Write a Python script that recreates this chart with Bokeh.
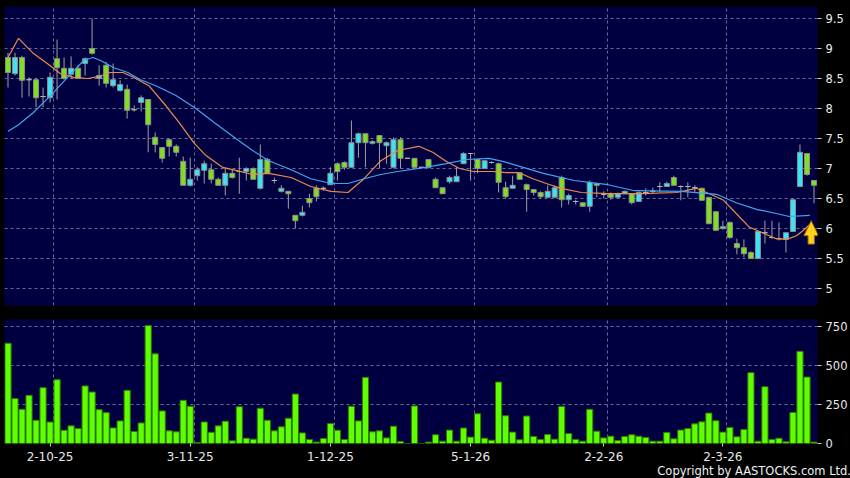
from bokeh.plotting import figure
from bokeh.layouts import column
from bokeh.models import (Range1d, FixedTicker, NumeralTickFormatter, Div,
                          ColumnDataSource, GlobalInlineStyleSheet)
from bokeh.embed import file_html
from bokeh.resources import INLINE

# ---------------- data ----------------
opens = [
    8.85, 8.58, 8.85, 8.48, 8.48, 8.20, 8.18, 8.83, 8.67, 8.57,
    8.67, 8.75, 9.00, 8.50, 8.72, 8.38, 8.30, 8.32, 7.98, 8.10,
    8.15, 7.52, 7.35, 7.48, 7.37, 7.12, 6.72, 6.88, 6.97, 6.98,
    6.82, 6.72, 6.92, 6.95, 6.95, 7.00, 6.67, 7.15, 6.80, 6.62,
    6.62, 6.22, 6.22, 6.50, 6.67, 6.67, 6.73, 7.08, 7.10, 7.02,
    7.43, 7.58, 7.42, 7.55, 7.38, 7.02, 7.48, 7.17, 7.17, 7.02,
    7.15, 6.82, 6.68, 6.78, 6.78, 7.08, 7.25, 7.15, 7.00, 7.10,
    7.08, 6.68, 6.67, 6.93, 6.73, 6.65, 6.60, 6.52, 6.52, 6.85,
    6.48, 6.45, 6.43, 6.37, 6.75, 6.57, 6.58, 6.52, 6.58, 6.58,
    6.45, 6.60, 6.62, 6.70, 6.70, 6.85, 6.70, 6.70, 6.68, 6.67,
    6.52, 6.28, 6.00, 6.10, 5.75, 5.68, 5.60, 5.50, 5.93, 5.85,
    5.83, 5.82, 5.95, 6.70, 7.25, 6.80]
closes = [
    8.60, 8.85, 8.47, 8.48, 8.18, 8.20, 8.52, 8.68, 8.50, 8.67,
    8.50, 8.83, 8.92, 8.55, 8.42, 8.48, 8.40, 7.97, 7.98, 8.18,
    7.73, 7.40, 7.17, 7.37, 7.27, 6.72, 6.82, 6.98, 7.08, 6.82,
    6.72, 6.92, 6.85, 6.95, 7.00, 6.82, 7.15, 6.92, 6.80, 6.67,
    6.58, 6.13, 6.27, 6.43, 6.53, 6.67, 6.92, 6.95, 7.02, 7.43,
    7.58, 7.43, 7.45, 7.43, 7.43, 7.48, 7.17, 7.17, 7.02, 7.02,
    7.02, 6.68, 6.58, 6.85, 6.87, 7.25, 7.25, 7.00, 7.13, 7.10,
    6.77, 6.53, 6.72, 6.82, 6.65, 6.60, 6.53, 6.62, 6.68, 6.48,
    6.55, 6.45, 6.37, 6.77, 6.72, 6.57, 6.52, 6.58, 6.62, 6.43,
    6.60, 6.60, 6.62, 6.70, 6.75, 6.72, 6.70, 6.70, 6.68, 6.47,
    6.08, 5.97, 6.03, 5.85, 5.68, 5.58, 5.50, 5.95, 5.93, 5.85,
    5.83, 5.93, 6.48, 7.27, 6.90, 6.72]
highs = [
    8.93, 8.93, 8.88, 8.52, 8.50, 8.35, 8.60, 9.15, 8.85, 8.87,
    8.72, 8.85, 9.50, 8.72, 8.78, 8.75, 8.47, 8.40, 8.05, 8.22,
    8.15, 7.60, 7.35, 7.50, 7.40, 7.20, 7.18, 7.02, 7.13, 7.08,
    6.85, 7.02, 6.98, 7.18, 7.02, 7.02, 7.40, 7.18, 6.85, 6.72,
    6.62, 6.22, 6.38, 6.58, 6.72, 6.70, 7.02, 7.10, 7.12, 7.80,
    7.60, 7.58, 7.47, 7.55, 7.45, 7.52, 7.52, 7.17, 7.17, 7.02,
    7.15, 6.85, 6.68, 6.88, 7.02, 7.27, 7.25, 7.15, 7.13, 7.12,
    7.10, 6.78, 6.88, 6.93, 6.75, 6.65, 6.62, 6.72, 6.72, 6.88,
    6.58, 6.48, 6.43, 6.80, 6.75, 6.62, 6.60, 6.60, 6.63, 6.58,
    6.62, 6.67, 6.68, 6.77, 6.78, 6.88, 6.72, 6.77, 6.72, 6.68,
    6.52, 6.28, 6.13, 6.12, 5.83, 5.82, 5.62, 5.95, 6.13, 6.13,
    6.10, 5.93, 6.50, 7.40, 7.25, 6.80]
lows = [
    8.35, 8.55, 8.18, 8.20, 8.02, 8.02, 8.10, 8.15, 8.48, 8.50,
    8.50, 8.55, 8.90, 8.38, 8.35, 8.35, 8.28, 7.83, 7.95, 7.95,
    7.27, 7.27, 7.10, 7.20, 7.20, 6.72, 6.70, 6.80, 6.75, 6.75,
    6.72, 6.55, 6.83, 6.58, 6.80, 6.82, 6.65, 6.92, 6.75, 6.60,
    6.33, 6.00, 6.20, 6.35, 6.45, 6.63, 6.73, 6.80, 6.98, 7.02,
    7.18, 7.02, 7.40, 7.00, 7.08, 7.00, 7.00, 7.17, 7.00, 7.02,
    7.00, 6.68, 6.58, 6.75, 6.78, 7.08, 6.80, 6.92, 7.00, 7.08,
    6.60, 6.50, 6.67, 6.82, 6.28, 6.55, 6.50, 6.52, 6.52, 6.35,
    6.40, 6.40, 6.37, 6.28, 6.52, 6.50, 6.48, 6.52, 6.58, 6.40,
    6.45, 6.55, 6.58, 6.60, 6.70, 6.72, 6.47, 6.52, 6.60, 6.47,
    6.08, 5.97, 5.98, 5.83, 5.57, 5.52, 5.50, 5.50, 5.75, 5.83,
    5.80, 5.60, 5.95, 6.70, 6.88, 6.42]
volumes = [
    643, 288, 219, 309, 149, 358, 138, 409, 85, 113,
    96, 369, 330, 217, 198, 100, 145, 341, 77, 132,
    756, 575, 209, 81, 75, 277, 239, 6, 138, 72,
    113, 143, 17, 236, 34, 28, 226, 149, 81, 107,
    162, 317, 68, 26, 9, 32, 128, 85, 26, 239,
    145, 424, 75, 81, 36, 111, 13, 0, 241, 0,
    9, 56, 15, 86, 15, 99, 41, 191, 34, 21,
    394, 178, 73, 24, 176, 45, 26, 58, 28, 238,
    64, 26, 15, 219, 79, 36, 47, 19, 45, 56,
    47, 39, 15, 15, 71, 30, 86, 96, 126, 139,
    195, 146, 73, 103, 43, 90, 454, 15, 364, 26,
    34, 11, 199, 591, 426, 9]

# short moving average (orange)
ma_short_idx = [0, 1.5, 3.6, 5.6, 7.5, 9.4, 11.4, 12.8, 14.6, 16.4, 17.9, 20.1,
                22.5, 24.4, 26.5, 28.2, 30.6, 32.5, 34.9, 37.2, 40.4, 43.2, 46.1,
                48.5, 50.8, 53.2, 55.6, 58.6, 60.6, 62.5, 64.4, 66.4, 69.2, 71.1,
                72.9, 74.9, 76.8, 78.9, 81.8, 85.6, 90.4, 95.4, 98.2, 100.1, 102.1,
                103.9, 105.8, 107.8, 109.6, 111.1, 112.5, 113.6, 114.5]
ma_short_val = [8.85, 9.17, 8.92, 8.75, 8.58, 8.52, 8.50, 8.53, 8.60, 8.60, 8.52, 8.38,
                8.05, 7.77, 7.43, 7.22, 7.02, 6.97, 6.90, 6.92, 6.85, 6.70, 6.62,
                6.60, 6.83, 7.13, 7.30, 7.37, 7.27, 7.12, 7.00, 6.95, 6.95, 6.93,
                6.93, 6.83, 6.75, 6.67, 6.60, 6.58, 6.58, 6.60, 6.67, 6.58, 6.47,
                6.25, 6.02, 5.92, 5.83, 5.82, 5.88, 5.98, 6.08]

# long moving average (blue)
ma_long_idx = [0, 1.4, 3.6, 6.1, 8.5, 10.8, 12.1, 13.2, 15.1, 17.1, 18.9, 21.1,
               23.9, 26.8, 29.6, 32.5, 34.9, 37.2, 40.4, 43.2, 46.1, 48.5, 50.8,
               53.2, 55.6, 59.6, 62.5, 65.4, 68.6, 70.6, 73.5, 76.4, 80.8, 85.6,
               89.4, 96.1, 101.1, 103.9, 106.8, 109.6, 111.5, 114.4]
ma_long_val = [7.62, 7.72, 7.93, 8.22, 8.52, 8.80, 8.85, 8.80, 8.68, 8.60, 8.48, 8.38,
               8.22, 8.00, 7.75, 7.50, 7.30, 7.13, 6.98, 6.83, 6.75, 6.75, 6.83,
               6.90, 6.95, 7.02, 7.08, 7.15, 7.17, 7.12, 7.02, 6.92, 6.80, 6.73,
               6.63, 6.62, 6.57, 6.43, 6.32, 6.25, 6.20, 6.22]

tick_pos = [6, 26, 46, 66, 85, 102]
tick_labels = ["2-10-25", "3-11-25", "1-12-25", "5-1-26", "2-2-26", "2-3-26"]
price_ticks = [5, 5.5, 6, 6.5, 7, 7.5, 8, 8.5, 9, 9.5]
volume_ticks = [0, 250, 500, 750]
copyright_text = "Copyright by AASTOCKS.com Ltd."

# ---------------- styling ----------------
NAVY = "#000040"
GRID = "#6a6a9c"
UP = "#3EE2F4"
DOWN = "#80DF22"
DOJI = "#b4b4b4"
EDGE = "#8c8c8c"
FONT = "DejaVu Sans"

n = len(opens)
idx = list(range(n))
fill, line = [], []
for o, c in zip(opens, closes):
    if c > o:
        fill.append(UP); line.append(EDGE)
    elif c < o:
        fill.append(DOWN); line.append(EDGE)
    else:
        fill.append(DOJI); line.append(DOJI)

src = ColumnDataSource(dict(
    x=idx, top=[max(o, c) for o, c in zip(opens, closes)],
    bottom=[min(o, c) for o, c in zip(opens, closes)],
    high=highs, low=lows, fill=fill, line=line, vol=volumes))

x_rng = Range1d(-0.5, n - 0.5)


def style(p):
    p.background_fill_color = NAVY
    p.border_fill_color = "black"
    p.outline_line_color = None
    p.grid.grid_line_color = GRID
    p.grid.grid_line_dash = "3 3"
    p.grid.grid_line_width = 1
    p.xgrid.ticker = FixedTicker(ticks=[t + 0.55 for t in tick_pos])
    p.yaxis.axis_line_color = None
    p.yaxis.major_tick_line_color = "#cccccc"
    p.yaxis.major_tick_in = 0
    p.yaxis.major_tick_out = 4
    p.yaxis.minor_tick_line_color = None
    p.yaxis.major_label_text_color = "#e8e8e8"
    p.yaxis.major_label_text_font = FONT
    p.yaxis.major_label_text_font_size = "11.5px"
    p.yaxis.major_label_standoff = 4


p1 = figure(width=850, height=312, x_range=x_rng, y_range=Range1d(4.717, 9.7),
            output_backend="svg", toolbar_location=None, title=None,
            x_axis_location=None, y_axis_location="right",
            min_border_left=4, min_border_right=33, min_border_top=6,
            min_border_bottom=7)
style(p1)
p1.yaxis.ticker = FixedTicker(ticks=price_ticks)
p1.yaxis.formatter = NumeralTickFormatter(format="0.[0]")

p1.segment(x0="x", y0="low", x1="x", y1="high", source=src,
           line_color="#a0a0a0", line_width=1)
p1.vbar(x="x", top="top", bottom="bottom", width=0.72, source=src,
        fill_color="fill", line_color="line", line_width=1)
p1.line(ma_short_idx, ma_short_val, line_color="#EE8A4E", line_width=1.2)
p1.line(ma_long_idx, ma_long_val, line_color="#3EA6F0", line_width=1.2)

# yellow "up" arrow marker beside the last candle
ax, ay = n - 1.4, 6.13
arrow_x = [ax, ax + 1.05, ax + 0.45, ax + 0.45, ax - 0.45, ax - 0.45, ax - 1.05]
arrow_y = [ay, ay - 0.25, ay - 0.25, ay - 0.39, ay - 0.39, ay - 0.25, ay - 0.25]
p1.patch(arrow_x, arrow_y, fill_color="#FFD11A", line_color="#9a6a00", line_width=1)

p2 = figure(width=850, height=152, x_range=x_rng, y_range=Range1d(0, 795),
            output_backend="svg", toolbar_location=None, title=None,
            y_axis_location="right",
            min_border_left=4, min_border_right=33, min_border_top=7,
            min_border_bottom=21)
style(p2)
p2.yaxis.ticker = FixedTicker(ticks=volume_ticks)
p2.yaxis.formatter = NumeralTickFormatter(format="0")
p2.ygrid.ticker = FixedTicker(ticks=[250, 500, 750])
p2.xaxis.ticker = FixedTicker(ticks=tick_pos)
p2.xaxis.major_label_overrides = {t: l for t, l in zip(tick_pos, tick_labels)}
p2.xaxis.axis_line_color = None
p2.xaxis.major_tick_line_color = "#cccccc"
p2.xaxis.major_tick_in = 0
p2.xaxis.major_tick_out = 3
p2.xaxis.minor_tick_line_color = None
p2.xaxis.major_label_text_color = "#e8e8e8"
p2.xaxis.major_label_text_font = FONT
p2.xaxis.major_label_text_font_size = "12px"
p2.xaxis.major_label_standoff = 5

p2.vbar(x="x", top="vol", bottom=0, width=0.88, source=src,
        fill_color="#5EFF00", line_color="#2f7a00", line_width=1)

# copyright line at the bottom right
credit = Div(text=copyright_text, width=846, height=14,
             styles={"color": "#f0f0f0", "font-family": "DejaVu Sans",
                     "font-size": "11.5px", "line-height": "12px",
                     "text-align": "right", "white-space": "nowrap",
                     "position": "relative", "top": "-4px"})

layout = column(p1, p2, credit, spacing=0,
                stylesheets=[GlobalInlineStyleSheet(
                    css="html, body { margin: 0; padding: 0; background: #000; overflow: hidden; }")])
open("out.html", "w").write(file_html(layout, INLINE))
